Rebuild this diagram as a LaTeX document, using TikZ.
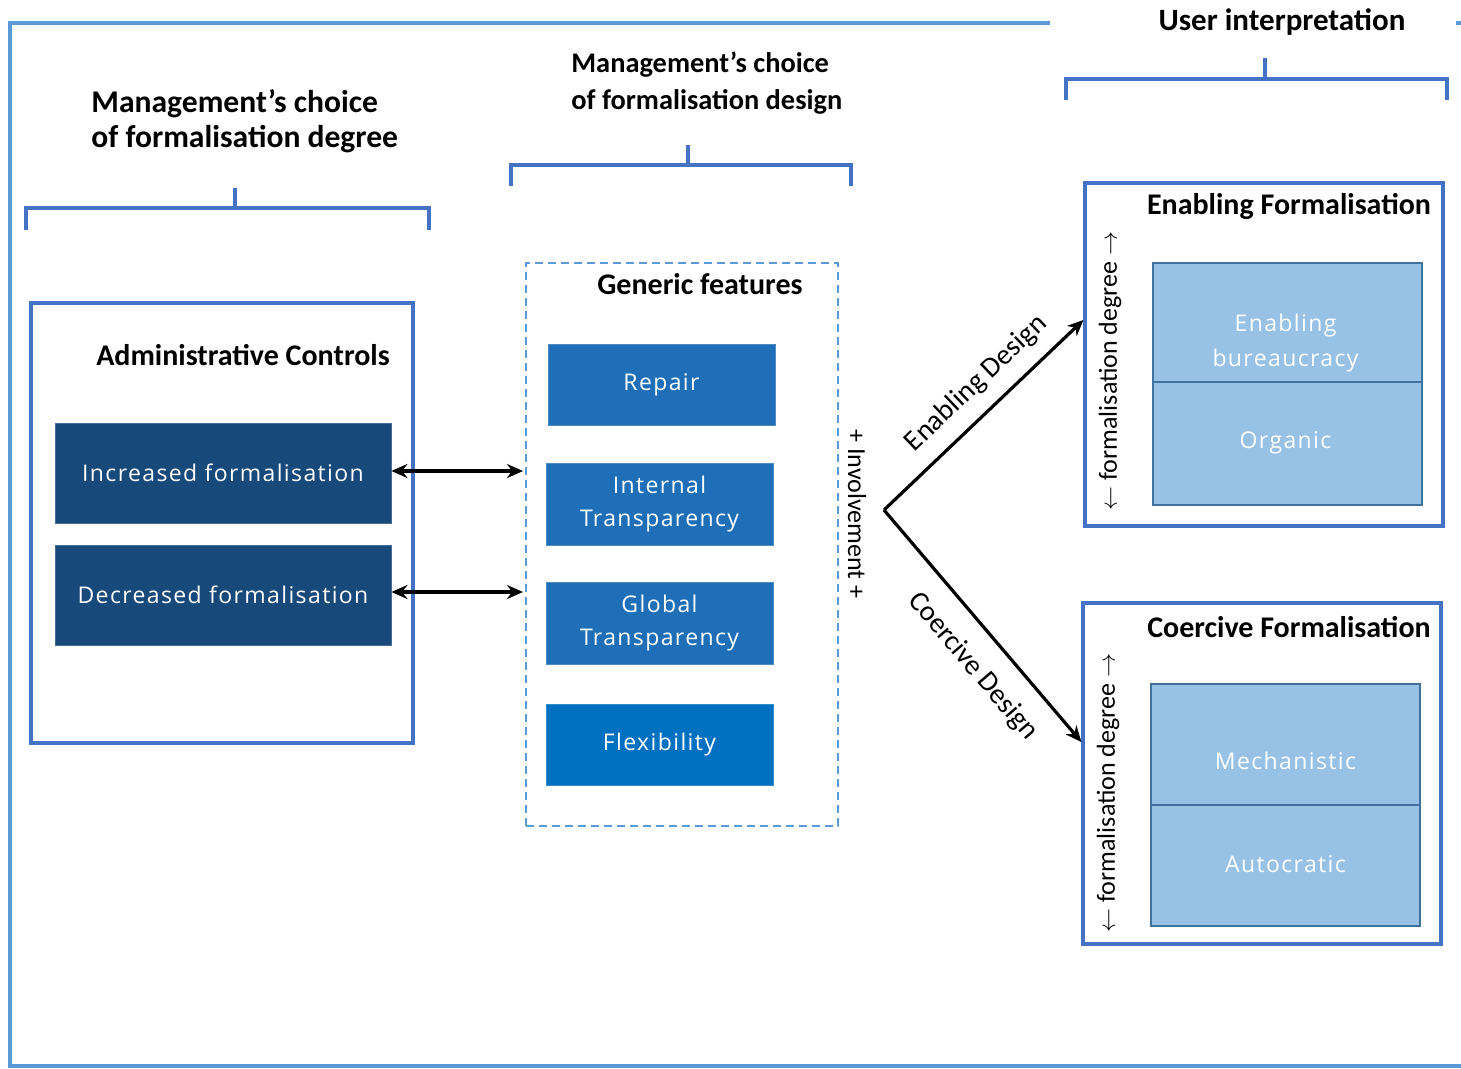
\documentclass[tikz,border=0pt]{standalone}
\usepackage{fontspec}
\setmainfont{Carlito}
\newfontfamily\boxfont[LetterSpace=6]{Open Sans}
\usetikzlibrary{arrows.meta,calc}
\definecolor{frameblue}{HTML}{5B9BD5}
\definecolor{brk}{HTML}{4472C4}
\definecolor{darkbox}{HTML}{17497A}
\definecolor{midbox}{HTML}{1E6FB7}
\definecolor{flexbox}{HTML}{0070C0}
\definecolor{lightbox}{HTML}{97C2E6}
\definecolor{lightedge}{HTML}{41719C}
\tikzset{
  titletxt/.style={font=\bfseries\fontsize{15.5}{17.5}\selectfont, inner sep=0pt},
  boxtitle/.style={font=\bfseries\fontsize{15}{17.5}\selectfont, inner sep=0pt},
  groupbox/.style={draw=brk, line width=1.6pt, inner sep=0pt},
  boxtxt/.style={text=white, font=\boxfont\fontsize{11.5}{16.5}\selectfont, inner sep=0pt, align=center},
  darkstyle/.style={boxtxt, fill=darkbox, draw=darkbox!80!white, line width=0.4pt, minimum width=168pt, minimum height=50pt},
  midstyle/.style={boxtxt, fill=midbox, draw=midbox!80!white, line width=0.4pt, minimum width=113.5pt, minimum height=41pt},
  lightstyle/.style={fill=lightbox, draw=lightedge, line width=0.8pt, minimum width=134.5pt, minimum height=60.5pt, inner sep=0pt},
  lighttxt/.style={boxtxt, font=\boxfont\fontsize{11.5}{17.5}\selectfont},
  bracketline/.style={draw=brk, line width=2pt},
  conn/.style={draw=black, line width=1.6pt},
  biarrow/.style={draw=black, line width=1.9pt, {Stealth[length=8pt,width=7pt]}-{Stealth[length=8pt,width=7pt]}},
  sidetxt/.style={font=\fontsize{13}{15}\selectfont, inner sep=0pt},
  designtxt/.style={font=\fontsize{14.3}{16}\selectfont, inner sep=0pt}
}
\begin{document}
\begin{tikzpicture}[x=0.5pt,y=-0.5pt]
\useasboundingbox (0,0) rectangle (1461,1069);
% outer frame
\draw[frameblue, line width=1.8pt] (1050,23) -- (10,23) -- (10,1066) -- (1461,1066);
\draw[frameblue, line width=1.8pt] (1456,23) -- (1461,23);
% brackets
\draw[bracketline] (26,230) -- (26,208) -- (429,208) -- (429,230);
\draw[bracketline] (235,188) -- (235,208);
\draw[bracketline] (511,186) -- (511,165) -- (851,165) -- (851,186);
\draw[bracketline] (688,145) -- (688,165);
\draw[bracketline] (1066,100) -- (1066,79) -- (1447,79) -- (1447,100);
\draw[bracketline] (1265,58) -- (1265,79);
% titles
\node[titletxt, align=left, anchor=west, font=\bfseries\fontsize{15.8}{17.5}\selectfont] (t1) at (91,121) {Management's choice\\of formalisation degree};
\node[titletxt, align=left, anchor=west, font=\bfseries\fontsize{14.2}{18.5}\selectfont] (t2) at (571,83) {Management's choice\\of formalisation design};
\node[titletxt] (t3) at (1282,22) {User interpretation};
% administrative controls
\node[groupbox, minimum width=191pt, minimum height=220pt] (adm) at (222,523) {};
\node[boxtitle] (admt) at (243,355) {Administrative Controls};
\node[darkstyle] (inc) at (223,473) {Increased formalisation};
\node[darkstyle] (dec) at (223,595) {Decreased formalisation};
% generic features
\node[draw=frameblue, dash pattern=on 4pt off 2.5pt, line width=1pt, minimum width=156pt, minimum height=281.5pt, inner sep=0pt] (gf) at (682,544.5) {};
\node[boxtitle] (gft) at (700,284) {Generic features};
\node[midstyle, minimum height=40.5pt] (rep) at (661.5,384.5) {Repair};
\node[midstyle] (itr) at (659.5,504) {Internal\\Transparency};
\node[midstyle] (gtr) at (659.5,623) {Global\\Transparency};
\node[midstyle, fill=flexbox, draw=flexbox!80!white, minimum height=40.5pt] (flx) at (659.5,744.5) {Flexibility};
% bidirectional arrows
\draw[biarrow] ($(inc.east)+(0,-2)$) -- ($(inc.east -| gf.west)+(-2,-2)$);
\draw[biarrow] ($(dec.east)+(0,-3)$) -- ($(dec.east -| gf.west)+(-2,-3)$);
% involvement
\node[sidetxt, rotate=-90] (inv) at (857,514) {+ Involvement +};
% enabling formalisation
\node[groupbox, minimum width=179pt, minimum height=171.5pt] (enb) at (1264,354.5) {};
\node[boxtitle] (enbt) at (1289,206) {Enabling Formalisation};
\node[lightstyle, minimum height=59.5pt] (ebu) at (1287.5,322.5) {};
\node[lightstyle, minimum height=61.5pt] (org) at (1287.5,443.5) {};
\node[lighttxt] (ebut) at ($(ebu.center)+(-2,21)$) {Enabling\\bureaucracy};
\node[lighttxt] (orgt) at ($(org.center)+(-2,-1)$) {Organic};
\node[sidetxt, rotate=90] (enbs) at (1110,371) {$\leftarrow$ formalisation degree $\rightarrow$};
% coercive formalisation
\node[groupbox, minimum width=179pt, minimum height=170.5pt] (coe) at (1262,773.5) {};
\node[boxtitle] (coet) at (1289,627) {Coercive Formalisation};
\node[lightstyle] (mec) at (1285.5,744.5) {};
\node[lightstyle] (aut) at (1285.5,865.5) {};
\node[lighttxt] (mect) at ($(mec.center)+(0,16)$) {Mechanistic};
\node[lighttxt] (autt) at ($(aut.center)+(0,-1)$) {Autocratic};
\node[sidetxt, rotate=90] (coes) at (1108,793) {$\leftarrow$ formalisation degree $\rightarrow$};
% design lines
\coordinate (apex) at (884,510);
\draw[conn, -{Stealth[length=8pt,width=7pt]}] (apex) -- ($(enb.west)+(0,-34.5)$)
  node[pos=0.56, sloped, above=7pt, designtxt] (end) {Enabling Design};
\draw[conn, -{Stealth[length=8pt,width=7pt]}] (apex) -- ($(coe.west)+(0,-31.5)$)
  node[pos=0.58, sloped, below=10pt, designtxt] (cod) {Coercive Design};
\end{tikzpicture}
\end{document}
